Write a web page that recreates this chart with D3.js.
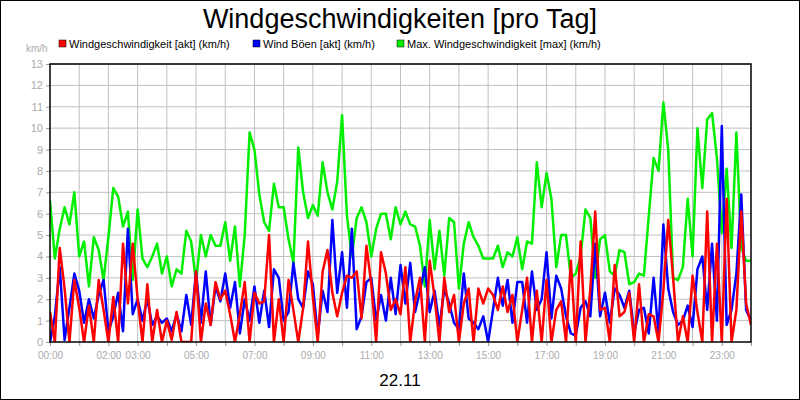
<!DOCTYPE html>
<html><head><meta charset="utf-8">
<script src="https://cdn.jsdelivr.net/npm/d3@7"></script>
<style>body{margin:0;background:#fff}svg{display:block;font-family:"Liberation Sans",Arial,sans-serif}</style>
</head><body><svg width="800" height="400"></svg>
<script>
const seriesNames=["Windgeschwindigkeit [akt] (km/h)","Wind Böen [akt] (km/h)","Max. Windgeschwindigkeit [max] (km/h)"];
const colors=["#ff0000","#0000ff","#00ee00"];
const tickHours=[0,2,3,5,7,9,11,13,15,17,19,21,23];
const tickLabels=["00:00","02:00","03:00","05:00","07:00","09:00","11:00","13:00","15:00","17:00","19:00","21:00","23:00"];
const yTicks=[0,1,2,3,4,5,6,7,8,9,10,11,12,13];
// values every 10 minutes from 00:00 to 24:00
const maxWind=[6.6,3.9,5.3,6.3,5.5,7.0, 4.0,4.7,2.6,4.9,4.3,2.9, 4.9,7.2,6.8,5.4,6.1,2.9, 6.2,3.9,3.5,4.0,4.6,3.2,
 4.0,2.6,3.4,3.2,5.2,4.7, 2.8,5.0,4.0,5.0,4.5,4.5, 5.6,3.8,5.4,2.6,5.0,9.8, 9.0,6.9,5.6,5.2,7.4,6.3,
 6.3,4.8,3.7,9.1,7.0,5.8, 6.4,5.9,8.4,7.0,6.2,7.5, 10.6,5.9,4.0,5.8,6.3,5.6, 4.0,5.3,6.0,6.0,4.8,6.3,
 5.5,6.1,5.5,5.4,4.5,2.6, 5.7,3.4,5.2,3.1,5.8,5.6, 2.5,4.6,5.6,4.9,4.5,3.9, 3.9,3.9,4.5,3.5,4.2,4.0,
 4.9,3.4,4.7,4.6,8.4,6.3, 7.9,6.7,3.5,5.0,5.0,3.0, 3.2,4.0,6.2,5.8,3.0,4.8, 5.0,3.3,3.1,4.3,4.2,2.7,
 2.8,3.2,3.1,5.9,8.6,8.0, 11.2,9.0,3.0,2.9,3.5,6.7, 4.0,10.0,7.2,10.4,10.7,8.6, 5.1,8.1,4.4,9.8,4.4,3.8, 3.8];
const wind=[1.4,0,4.4,2.5,0,2.9, 1.6,0,1.7,0,2.9,1.5, 0,2.1,0,4.6,1.8,4.6, 2.0,0,2.7,0,1.5,0,
 1.0,0.1,1.4,0,0,0, 3.3,0,1.8,0.8,2.8,2.0, 2.4,1.3,0,1.3,2.8,0, 2.3,1.8,1.9,5.0,0,2.0,
 0,2.9,1.5,0,1.6,4.7, 2.1,0,3.3,4.3,2.3,1.2, 2.3,3.1,3.0,3.3,1.1,4.5, 2.7,0,4.2,3.2,1.5,2.0,
 1.3,3.5,0,1.9,3.0,0, 3.8,2.1,0,3.0,1.4,2.2, 0,1.8,2.5,0,2.5,1.8, 2.5,2.2,1.5,2.6,1.4,2.2,
 0,1.5,3.0,0,2.4,0, 2.9,0,1.5,1.9,0,3.8, 0,4.7,0,2.5,6.1,1.5, 1.6,0,3.6,1.2,1.4,2.3,
 0,2.7,0,1.3,1.2,0, 2.4,5.7,3.0,0,1.2,0, 3.1,1.4,0,6.1,0,4.6, 0,6.7,0,1.5,6.1,1.8, 0.8];
const gusts=[0,1.2,3.5,0.1,1.6,3.2, 2.4,0.9,2.0,1.1,2.2,2.9, 0.5,1.2,2.3,0.5,5.3,1.3, 2.0,1.0,2.0,0.8,1.2,0.9,
 1.1,0.5,1.3,0.5,2.2,0.8, 3.3,0.9,3.3,0.8,2.6,1.9, 3.2,1.6,2.8,0.4,2.0,1.0, 2.6,0.9,2.4,0.7,3.4,3.0,
 1.0,1.4,3.7,2.0,1.6,3.3, 2.7,0.3,2.4,1.4,5.7,2.3, 4.2,1.6,5.3,0.6,1.2,2.8, 3.0,1.0,2.2,1.0,3.0,1.3,
 3.6,1.8,3.7,1.4,2.4,3.5, 1.4,2.4,0.7,2.5,1.8,0.9, 0.6,3.2,1.1,0.9,0.6,1.2, 0,1.5,3.0,1.7,2.9,0.9,
 2.8,2.8,0.9,3.3,1.5,2.0, 4.2,1.1,3.1,2.5,1.2,0.4, 0.3,1.6,1.9,1.2,4.6,1.2, 2.3,0.9,2.5,2.2,1.6,2.4,
 0.4,1.5,1.6,0.4,3.0,0.4, 5.5,2.5,1.4,0.8,1.0,1.7, 0.7,3.4,4.0,1.5,4.6,1.0, 10.1,0.8,1.5,3.2,6.9,1.5, 1.0];
const series=[wind,gusts,maxWind];

const svg=d3.select("svg");
svg.append("rect").attr("x",0.5).attr("y",0.5).attr("width",799).attr("height",399).attr("fill","#fff").attr("stroke","#000");
const L=50,R=751,T=64,B=342;
const x=d3.scaleLinear().domain([0,24]).range([L,R]);
const y=d3.scaleLinear().domain([0,13]).range([B,T]);
const g=svg.append("g");
g.selectAll(".vg").data(d3.range(1,24)).join("line").attr("x1",d=>x(d)).attr("x2",d=>x(d)).attr("y1",T).attr("y2",B).attr("stroke","#c0c0c0");
g.selectAll(".hg").data(yTicks.slice(1)).join("line").attr("y1",d=>y(d)).attr("y2",d=>y(d)).attr("x1",L).attr("x2",R).attr("stroke","#c0c0c0");
const yAx=svg.append("g").attr("transform",`translate(${L},0)`).call(d3.axisLeft(y).tickValues(yTicks).tickSize(4).tickFormat(d3.format("d")));
yAx.select(".domain").remove();
yAx.selectAll("line").attr("stroke","#999");
yAx.selectAll("text").attr("fill","#aaa").style("font-size","11px").style("font-family","Liberation Sans, Arial");
const xAx=svg.append("g").attr("transform",`translate(0,${B})`).call(d3.axisBottom(x).tickValues(d3.range(0,25)).tickSize(4).tickFormat(d=>{const i=tickHours.indexOf(d);return i>=0?tickLabels[i]:"";}));
xAx.select(".domain").remove();
xAx.selectAll("line").attr("stroke","#999");
xAx.selectAll("text").attr("fill","#aaa").style("font-size","10px").style("font-family","Liberation Sans, Arial").attr("dy","1em");
const line=d3.line().x((d,i)=>x(i/6)).y(d=>y(d));
svg.append("clipPath").attr("id","c").append("rect").attr("x",L).attr("y",T).attr("width",R-L).attr("height",B-T);
[2,1,0].forEach(k=>{
 svg.append("path").datum(series[k]).attr("d",line).attr("fill","none").attr("stroke",colors[k]).attr("stroke-width",2.5).attr("stroke-linejoin","round").attr("clip-path","url(#c)");
});
svg.append("rect").attr("x",L).attr("y",T).attr("width",R-L).attr("height",B-T).attr("fill","none").attr("stroke","#000").attr("stroke-width",1.5);
svg.append("text").attr("x",400).attr("y",28).attr("text-anchor","middle").style("font-size","27px").text("Windgeschwindigkeiten [pro Tag]");
svg.append("text").attr("x",26).attr("y",52).attr("fill","#aaa").style("font-size","10px").text("km/h");
const legX=[59,253,397];
seriesNames.forEach((n,i)=>{
 svg.append("rect").attr("x",legX[i]).attr("y",40).attr("width",7).attr("height",7).attr("fill",colors[i]).attr("stroke","#000").attr("stroke-width",0.5);
 svg.append("text").attr("x",legX[i]+10).attr("y",48).style("font-size","11px").text(n);
});
svg.append("text").attr("x",400).attr("y",386).attr("text-anchor","middle").style("font-size","17px").text("22.11");
</script></body></html>
